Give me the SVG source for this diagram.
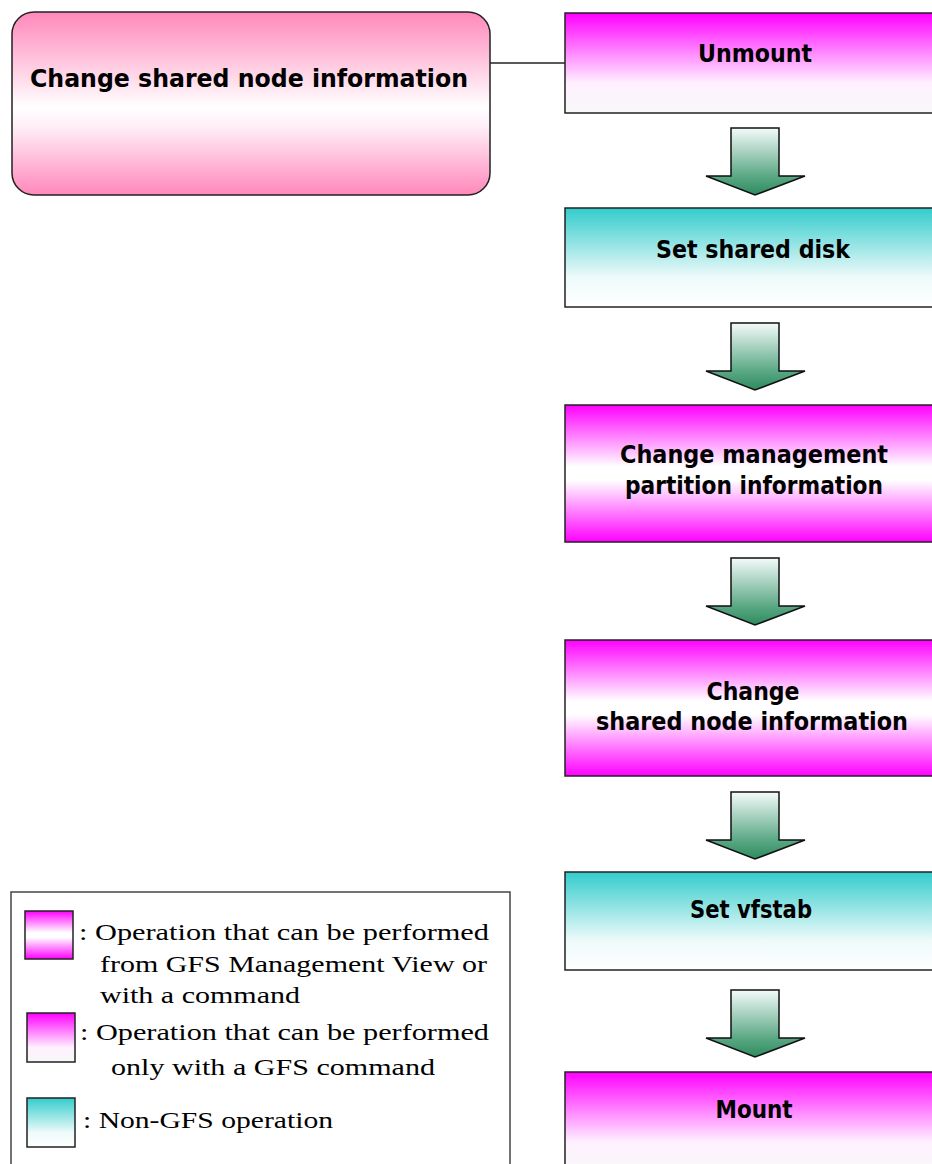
<svg xmlns="http://www.w3.org/2000/svg" xmlns:xlink="http://www.w3.org/1999/xlink" width="932" height="1164" viewBox="0 0 932 1164">
<defs>
<linearGradient id="gMW" x1="0" y1="0" x2="0" y2="1">
<stop offset="0" stop-color="#ff00ff"/><stop offset="0.7" stop-color="#fff0ff"/><stop offset="1" stop-color="#f8f8f8"/>
</linearGradient>
<linearGradient id="gMWM" x1="0" y1="0" x2="0" y2="1">
<stop offset="0" stop-color="#ff00ff"/><stop offset="0.45" stop-color="#ffffff"/><stop offset="0.55" stop-color="#ffffff"/><stop offset="1" stop-color="#ff00ff"/>
</linearGradient>
<linearGradient id="gTW" x1="0" y1="0" x2="0" y2="1">
<stop offset="0" stop-color="#33cccc"/><stop offset="0.7" stop-color="#eefafa"/><stop offset="1" stop-color="#ffffff"/>
</linearGradient>
<linearGradient id="gPink" x1="0" y1="0" x2="0" y2="1">
<stop offset="0" stop-color="#ff88bb"/><stop offset="0.52" stop-color="#ffffff"/><stop offset="0.62" stop-color="#fff0f8"/><stop offset="1" stop-color="#ff88bb"/>
</linearGradient>
<linearGradient id="gArrow" x1="0" y1="0" x2="0" y2="1">
<stop offset="0" stop-color="#f4fbfb"/><stop offset="0.72" stop-color="#5aa884"/><stop offset="1" stop-color="#2e8b5e"/>
</linearGradient>
<path id="arrow" d="M731,0 H779 V48 H805 L755,67 L706,48 H731 Z" fill="url(#gArrow)" stroke="#111" stroke-width="1.5" stroke-linejoin="miter"/>
<style>
.box{stroke:#222;stroke-width:1.5}
.lbl{font-family:"DejaVu Sans",Verdana,sans-serif;font-weight:bold;font-size:24px;fill:#000;text-anchor:middle}
.leg{font-family:"Liberation Serif","Times New Roman",serif;font-size:23px;fill:#000}
</style>
</defs>

<g id="connectors">
<line x1="490" y1="63" x2="565" y2="63" stroke="#222" stroke-width="1.5"/>
<use xlink:href="#arrow" href="#arrow" transform="translate(0,128)"/>
<use xlink:href="#arrow" href="#arrow" transform="translate(0,323)"/>
<use xlink:href="#arrow" href="#arrow" transform="translate(0,558)"/>
<use xlink:href="#arrow" href="#arrow" transform="translate(0,792)"/>
<use xlink:href="#arrow" href="#arrow" transform="translate(0,990)"/>
</g>

<g id="node-change-shared-left">
<rect class="box" x="12" y="12" width="478" height="183" rx="22" ry="22" fill="url(#gPink)"/>
<text class="lbl" x="249" y="87" textLength="438" lengthAdjust="spacingAndGlyphs">Change shared node information</text>
</g>

<g id="node-unmount">
<rect class="box" x="565" y="13" width="380" height="100" fill="url(#gMW)"/>
<text class="lbl" x="755" y="62" textLength="114" lengthAdjust="spacingAndGlyphs">Unmount</text>
</g>

<g id="node-set-shared-disk">
<rect class="box" x="565" y="208" width="380" height="99" fill="url(#gTW)"/>
<text class="lbl" x="753" y="258" textLength="194" lengthAdjust="spacingAndGlyphs">Set shared disk</text>
</g>

<g id="node-change-mgmt">
<rect class="box" x="565" y="405" width="380" height="137" fill="url(#gMWM)"/>
<text class="lbl" x="754" y="463" textLength="268" lengthAdjust="spacingAndGlyphs">Change management</text>
<text class="lbl" x="754" y="494" textLength="258" lengthAdjust="spacingAndGlyphs">partition information</text>
</g>

<g id="node-change-shared">
<rect class="box" x="565" y="640" width="380" height="136" fill="url(#gMWM)"/>
<text class="lbl" x="753" y="700" textLength="93" lengthAdjust="spacingAndGlyphs">Change</text>
<text class="lbl" x="752" y="730" textLength="312" lengthAdjust="spacingAndGlyphs">shared node information</text>
</g>

<g id="node-set-vfstab">
<rect class="box" x="565" y="872" width="380" height="98" fill="url(#gTW)"/>
<text class="lbl" x="751" y="918" textLength="122" lengthAdjust="spacingAndGlyphs">Set vfstab</text>
</g>

<g id="node-mount">
<rect class="box" x="565" y="1072" width="380" height="100" fill="url(#gMW)"/>
<text class="lbl" x="754" y="1118" textLength="77" lengthAdjust="spacingAndGlyphs">Mount</text>
</g>

<g id="legend">
<rect x="11" y="892" width="499" height="290" fill="#ffffff" stroke="#444" stroke-width="1.5"/>
<rect class="box" x="25" y="911" width="48" height="48" fill="url(#gMWM)"/>
<rect class="box" x="27" y="1013" width="48" height="49" fill="url(#gMW)"/>
<rect class="box" x="27" y="1098" width="48" height="49" fill="url(#gTW)"/>
<text class="leg" x="79" y="940" textLength="410" lengthAdjust="spacingAndGlyphs">: Operation that can be performed</text>
<text class="leg" x="100" y="972" textLength="387" lengthAdjust="spacingAndGlyphs">from GFS Management View or</text>
<text class="leg" x="100" y="1003" textLength="200" lengthAdjust="spacingAndGlyphs">with a command</text>
<text class="leg" x="80" y="1040" textLength="409" lengthAdjust="spacingAndGlyphs">: Operation that can be performed</text>
<text class="leg" x="111" y="1075" textLength="324" lengthAdjust="spacingAndGlyphs">only with a GFS command</text>
<text class="leg" x="83" y="1128" textLength="250" lengthAdjust="spacingAndGlyphs">: Non-GFS operation</text>
</g>
</svg>
